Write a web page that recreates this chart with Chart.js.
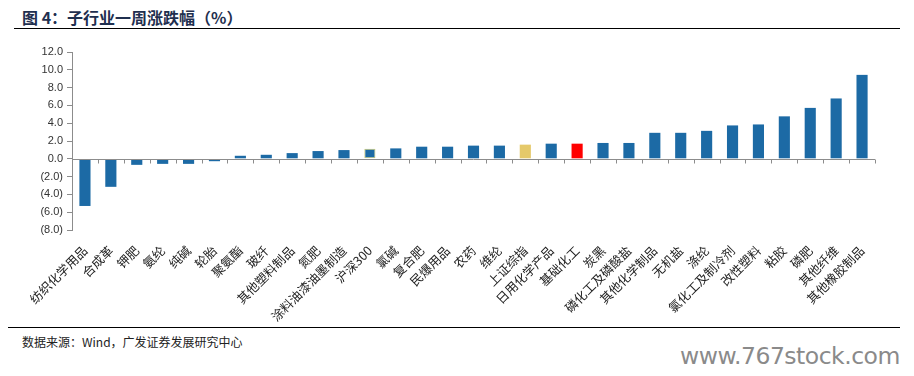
<!DOCTYPE html>
<html>
<head>
<meta charset="utf-8">
<script src="https://cdn.jsdelivr.net/npm/chart.js@4.4.0/dist/chart.umd.min.js"></script>
<style>
  body { margin: 0; background: #fff; width: 914px; height: 376px; position: relative; overflow: hidden; }
  #title { position: absolute; left: 22px; top: 5px; font: bold 16px "Noto Sans CJK SC", sans-serif; color: #1f2f4f; }
  #topLine { position: absolute; left: 14px; top: 28px; width: 886px; height: 0; border-top: 1.5px solid #000; }
  #bottomLine { position: absolute; left: 8px; top: 327px; width: 892px; height: 0; border-top: 1px solid #000; }
  #source { position: absolute; left: 22px; top: 333px; font: 12px "Noto Sans CJK SC", sans-serif; color: #222; }
  #mark { position: absolute; left: 680px; top: 342px; font: 23.5px "DejaVu Sans", sans-serif; color: #8a8a8a; letter-spacing: -0.5px; }
  #chart { position: absolute; left: 0; top: 40px; }
</style>
</head>
<body>
<div id="title">图 4：子行业一周涨跌幅（%）</div>
<div id="topLine"></div>
<canvas id="chart" width="914" height="284"></canvas>
<div id="bottomLine"></div>
<div id="source">数据来源：Wind，广发证券发展研究中心</div>
<div id="mark">www.767stock.com</div>
<script>
const categories = ['纺织化学用品', '合成革', '钾肥', '氨纶', '纯碱', '轮胎', '聚氨酯', '玻纤', '其他塑料制品', '氮肥',
  '涂料油漆油墨制造', '沪深300', '氯碱', '复合肥', '民爆用品', '农药', '维纶', '上证综指', '日用化学产品', '基础化工',
  '炭黑', '磷化工及磷酸盐', '其他化学制品', '无机盐', '涤纶', '氯化工及制冷剂', '改性塑料', '粘胶', '磷肥', '其他纤维', '其他橡胶制品'];
const changes = [-5.3, -3.15, -0.68, -0.57, -0.57, -0.27, 0.34, 0.45, 0.64, 0.87,
  0.98, 1.14, 1.17, 1.36, 1.36, 1.48, 1.48, 1.59, 1.70, 1.70,
  1.78, 1.78, 2.92, 2.92, 3.14, 3.75, 3.86, 4.77, 5.72, 6.78, 9.43];
const yTicks = [12, 10, 8, 6, 4, 2, 0, -2, -4, -6, -8];

const barColors = categories.map(c => c === '基础化工' ? '#ff0000' : (c === '上证综指' ? '#e5c96a' : '#1c6aa5'));
const edgeColors = categories.map(c => c === '沪深300' ? '#c8c870' : 'rgba(0,0,0,0)');
const edgeWidths = categories.map(c => c === '沪深300' ? 1 : 0);

// zero line with category boundary ticks
const zeroAxis = {
  id: 'zeroAxis',
  afterDatasetsDraw(chart) {
    const x = chart.scales.x, y = chart.scales.y;
    const y0 = Math.round(y.getPixelForValue(0)) + 0.5;
    const ctx = chart.ctx;
    ctx.save();
    ctx.strokeStyle = '#8c8c8c';
    ctx.lineWidth = 1;
    ctx.beginPath();
    ctx.moveTo(chart.chartArea.left, y0);
    ctx.lineTo(chart.chartArea.right, y0);
    const step = x.getPixelForTick(1) - x.getPixelForTick(0);
    for (let i = 0; i <= categories.length; i++) {
      const px = Math.round(x.getPixelForTick(0) - step / 2 + i * step) + 0.5;
      ctx.moveTo(px, y0);
      ctx.lineTo(px, y0 + 4);
    }
    ctx.stroke();
    ctx.restore();
  }
};

new Chart(document.getElementById('chart'), {
  type: 'bar',
  data: {
    labels: categories,
    datasets: [{
      data: changes,
      backgroundColor: barColors,
      borderColor: edgeColors,
      borderWidth: edgeWidths,
      borderSkipped: false,
      barPercentage: 0.43,
      categoryPercentage: 1
    }]
  },
  options: {
    responsive: false,
    animation: false,
    layout: { padding: { left: 0, right: 39, top: 12, bottom: 0 } },
    plugins: { legend: { display: false }, tooltip: { enabled: false } },
    scales: {
      x: {
        grid: { display: false },
        border: { display: false },
        ticks: {
          autoSkip: false, minRotation: 45, maxRotation: 45, padding: 5,
          color: '#222', font: { family: '"Noto Sans CJK SC"', size: 12.5 }
        },
        afterFit(scale) { scale.height = 94; }
      },
      y: {
        min: -8, max: 12,
        afterBuildTicks(scale) { scale.ticks = yTicks.map(v => ({ value: v })); },
        grid: { drawOnChartArea: false, drawTicks: true, tickLength: 5, color: '#8c8c8c' },
        border: { display: true, color: '#8c8c8c' },
        ticks: {
          padding: 4, color: '#333',
          font: { family: '"Liberation Sans", Arial', size: 11 },
          callback: v => v < 0 ? '(' + Math.abs(v).toFixed(1) + ')' : v.toFixed(1)
        },
        afterFit(scale) { scale.width = 72; }
      }
    }
  },
  plugins: [zeroAxis]
});
</script>
</body>
</html>
